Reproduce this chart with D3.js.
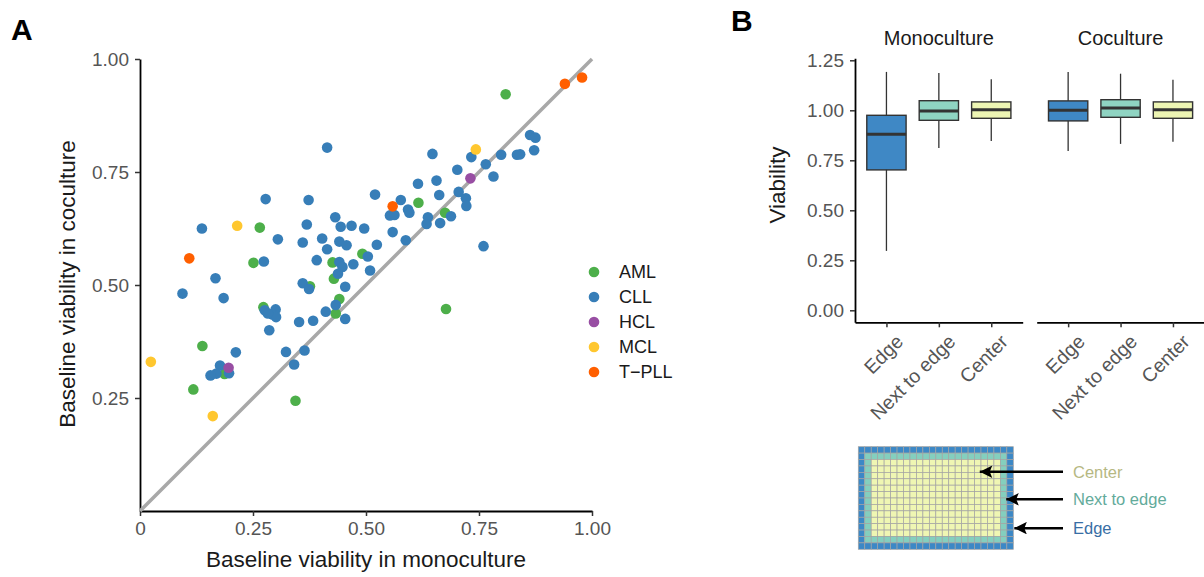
<!DOCTYPE html>
<html>
<head>
<meta charset="utf-8">
<script src="https://cdn.jsdelivr.net/npm/d3@7"></script>
<style>
  body { margin: 0; background: #fff; }
  svg { font-family: "Liberation Sans", Arial, Helvetica, sans-serif; }
</style>
</head>
<body>
<svg id="fig" width="1204" height="577"></svg>
<script>
// Panel A: baseline viability, monoculture vs coculture, one point per sample
const diseases = ["AML", "CLL", "HCL", "MCL", "T\u2212PLL"];
const diseaseColors = ["#4daf4a", "#377eb8", "#984ea3", "#ffc72f", "#ff5f00"];

// [monoculture, coculture]
const amlPoints = [
  [0.809, 0.922], [0.616, 0.682], [0.675, 0.660], [0.265, 0.627], [0.492, 0.569],
  [0.251, 0.549], [0.426, 0.550], [0.429, 0.514], [0.376, 0.497], [0.441, 0.469],
  [0.273, 0.451], [0.433, 0.437], [0.677, 0.447], [0.138, 0.365], [0.187, 0.303],
  [0.118, 0.269], [0.344, 0.244]
];
const cllPoints = [
  [0.414, 0.804], [0.863, 0.832], [0.875, 0.826], [0.872, 0.798], [0.647, 0.790],
  [0.733, 0.783], [0.799, 0.788], [0.834, 0.788], [0.841, 0.789], [0.702, 0.755],
  [0.765, 0.767], [0.782, 0.740], [0.615, 0.724], [0.656, 0.731], [0.662, 0.699],
  [0.705, 0.706], [0.721, 0.692], [0.722, 0.675], [0.520, 0.700], [0.577, 0.688],
  [0.593, 0.667], [0.596, 0.660], [0.688, 0.652], [0.553, 0.654], [0.563, 0.655],
  [0.637, 0.650], [0.634, 0.635], [0.664, 0.637], [0.278, 0.690], [0.373, 0.688],
  [0.137, 0.625], [0.432, 0.650], [0.369, 0.634], [0.444, 0.629], [0.468, 0.631],
  [0.496, 0.625], [0.559, 0.617], [0.305, 0.601], [0.360, 0.594], [0.403, 0.603],
  [0.441, 0.596], [0.457, 0.588], [0.524, 0.589], [0.588, 0.599], [0.760, 0.586],
  [0.414, 0.579], [0.504, 0.563], [0.274, 0.552], [0.391, 0.555], [0.441, 0.551],
  [0.448, 0.540], [0.472, 0.546], [0.509, 0.532], [0.438, 0.525], [0.167, 0.515],
  [0.360, 0.504], [0.374, 0.491], [0.454, 0.496], [0.094, 0.481], [0.185, 0.471],
  [0.433, 0.456], [0.276, 0.444], [0.300, 0.446], [0.293, 0.435], [0.301, 0.429],
  [0.283, 0.437], [0.286, 0.400], [0.411, 0.441], [0.352, 0.418], [0.383, 0.421],
  [0.454, 0.425], [0.212, 0.351], [0.323, 0.352], [0.364, 0.355], [0.341, 0.324],
  [0.177, 0.322], [0.197, 0.305], [0.169, 0.304], [0.156, 0.300]
];
const hclPoints = [[0.731, 0.736], [0.196, 0.317]];
const mclPoints = [[0.743, 0.800], [0.215, 0.631], [0.024, 0.330], [0.161, 0.210]];
const tpllPoints = [[0.940, 0.945], [0.978, 0.959], [0.559, 0.674], [0.109, 0.559]];
const scatterTicks = [0, 0.25, 0.5, 0.75, 1];

// Panel B: viability by well position, [lower whisker, q1, median, q3, upper whisker]
const cultures = ["Monoculture", "Coculture"];
const positions = ["Edge", "Next to edge", "Center"];
const positionColors = ["#3f88c5", "#8fd4c2", "#edf5b3"];
const monoStats = [
  [0.297, 0.702, 0.880, 0.975, 1.192],
  [0.812, 0.950, 0.997, 1.048, 1.187],
  [0.847, 0.960, 1.003, 1.042, 1.155]
];
const cocStats = [
  [0.797, 0.947, 1.000, 1.047, 1.192],
  [0.832, 0.965, 1.012, 1.053, 1.183],
  [0.843, 0.960, 1.003, 1.042, 1.153]
];
const boxTicks = [0, 0.25, 0.5, 0.75, 1, 1.25];

// 384-well plate layout and the arrows pointing into it [col, row]
const plateCols = 24, plateRows = 16;
const plateLabels = ["Center", "Next to edge", "Edge"];
const plateLabelColors = ["#b6b883", "#63ab9b", "#386ea5"];
const plateArrowTips = [[18.5, 3.9], [22.6, 8.2], [23.85, 12.7]];
const plateColors = ["#3c88c6", "#84cfbe", "#eff6b3"];

const svg = d3.select("#fig");

// ---------- Panel A ----------
const sx = d3.scaleLinear().domain([0, 1]).range([140, 592]);
const sy = d3.scaleLinear().domain([0, 1]).range([511, 59]);

const fmtTick = d => d === 0 ? "0" : d3.format(".2f")(d);

function styleAxis(g) {
  g.select(".domain").attr("stroke", "#000").attr("stroke-width", 1.8);
  g.selectAll(".tick line").attr("stroke", "#333").attr("stroke-width", 1.5);
  g.selectAll(".tick text").attr("fill", "#555").style("font-size", "19px");
}

svg.append("g")
  .attr("transform", "translate(0,511)")
  .call(d3.axisBottom(sx).tickValues(scatterTicks).tickFormat(fmtTick).tickSize(5).tickSizeOuter(0).tickPadding(6))
  .call(styleAxis);

svg.append("g")
  .attr("transform", "translate(140,0)")
  .call(d3.axisLeft(sy).tickValues(scatterTicks.slice(1)).tickFormat(fmtTick).tickSize(5).tickSizeOuter(0).tickPadding(6))
  .call(styleAxis);

svg.append("line")
  .attr("x1", sx(0)).attr("y1", sy(0))
  .attr("x2", sx(1)).attr("y2", sy(1))
  .attr("stroke", "#a8a8a8")
  .attr("stroke-width", 3.5);

const pointSets = [amlPoints, cllPoints, hclPoints, mclPoints, tpllPoints];
pointSets.forEach((pts, i) => {
  svg.append("g").selectAll("circle")
    .data(pts)
    .join("circle")
    .attr("cx", d => sx(d[0]))
    .attr("cy", d => sy(d[1]))
    .attr("r", 5.3)
    .attr("fill", diseaseColors[i]);
});

// legend
const legend = svg.append("g").attr("transform", "translate(594,272)");
diseases.forEach((name, i) => {
  legend.append("circle").attr("cx", 0).attr("cy", i * 25).attr("r", 5.3).attr("fill", diseaseColors[i]);
  legend.append("text")
    .attr("x", 25).attr("y", i * 25)
    .attr("dominant-baseline", "central")
    .style("font-size", "18px")
    .attr("fill", "#1a1a1a")
    .text(name);
});

svg.append("text")
  .attr("x", 366).attr("y", 567)
  .attr("text-anchor", "middle")
  .style("font-size", "22.5px")
  .attr("fill", "#1a1a1a")
  .text("Baseline viability in monoculture");

svg.append("text")
  .attr("transform", "translate(75,284) rotate(-90)")
  .attr("text-anchor", "middle")
  .style("font-size", "22.5px")
  .attr("fill", "#1a1a1a")
  .text("Baseline viability in coculture");

svg.append("text")
  .attr("x", 11).attr("y", 40)
  .style("font-size", "30px").style("font-weight", "bold")
  .text("A");

// ---------- Panel B ----------
svg.append("text")
  .attr("x", 731).attr("y", 31)
  .style("font-size", "30px").style("font-weight", "bold")
  .text("B");

const by = d3.scaleLinear().domain([-0.06, 1.26]).range([322.3, 58.3]);
const panelRanges = [[855, 1022.7], [1036.7, 1204.4]];
const allStats = [monoStats, cocStats];

svg.append("g")
  .attr("transform", "translate(855,0)")
  .call(d3.axisLeft(by).tickValues(boxTicks).tickFormat(d3.format(".2f")).tickSize(5).tickSizeOuter(0).tickPadding(6))
  .call(styleAxis);

svg.append("text")
  .attr("transform", "translate(785,185) rotate(-90)")
  .attr("text-anchor", "middle")
  .style("font-size", "22.5px")
  .attr("fill", "#1a1a1a")
  .text("Viability");

cultures.forEach((culture, p) => {
  const bx = d3.scalePoint().domain(positions).range(panelRanges[p]).padding(0.6);
  const bw = bx.step() * 0.75;
  const g = svg.append("g");

  g.append("g")
    .attr("transform", "translate(0,322.3)")
    .call(d3.axisBottom(bx).tickSize(5).tickSizeOuter(0).tickFormat(""))
    .call(styleAxis);

  positions.forEach(pos => {
    g.append("text")
      .attr("transform", `translate(${bx(pos) + 8},333) rotate(-45)`)
      .attr("text-anchor", "end")
      .attr("dy", "0.72em")
      .attr("fill", "#555")
      .style("font-size", "19.5px")
      .text(pos);
  });

  g.append("text")
    .attr("x", (panelRanges[p][0] + panelRanges[p][1]) / 2)
    .attr("y", 45)
    .attr("text-anchor", "middle")
    .style("font-size", "20px")
    .attr("fill", "#1a1a1a")
    .text(culture);

  const boxes = g.selectAll(".box")
    .data(allStats[p])
    .join("g")
    .attr("class", "box");

  boxes.append("line")
    .attr("x1", (d, i) => bx(positions[i]))
    .attr("x2", (d, i) => bx(positions[i]))
    .attr("y1", d => by(d[0]))
    .attr("y2", d => by(d[4]))
    .attr("stroke", "#333")
    .attr("stroke-width", 1.3);

  boxes.append("rect")
    .attr("x", (d, i) => bx(positions[i]) - bw / 2)
    .attr("width", bw)
    .attr("y", d => by(d[3]))
    .attr("height", d => by(d[1]) - by(d[3]))
    .attr("fill", (d, i) => positionColors[i])
    .attr("stroke", "#333")
    .attr("stroke-width", 1.4);

  boxes.append("line")
    .attr("x1", (d, i) => bx(positions[i]) - bw / 2)
    .attr("x2", (d, i) => bx(positions[i]) + bw / 2)
    .attr("y1", d => by(d[2]))
    .attr("y2", d => by(d[2]))
    .attr("stroke", "#333")
    .attr("stroke-width", 3);
});

// ---------- plate diagram ----------
const px = d3.scaleLinear().domain([0, plateCols]).range([858.3, 1013.3]);
const py = d3.scaleLinear().domain([0, plateRows]).range([446.7, 549.3]);

const wells = [];
d3.range(plateRows).forEach(r => d3.range(plateCols).forEach(c => {
  const ring = Math.min(r, c, plateRows - 1 - r, plateCols - 1 - c);
  wells.push({ r, c, ring: Math.min(ring, 2) });
}));

svg.append("g").selectAll("rect")
  .data(wells)
  .join("rect")
  .attr("x", d => px(d.c))
  .attr("y", d => py(d.r))
  .attr("width", px(1) - px(0))
  .attr("height", py(1) - py(0))
  .attr("fill", d => plateColors[d.ring])
  .attr("stroke", "#a3a3a3")
  .attr("stroke-width", 0.7);

svg.append("defs").append("marker")
  .attr("id", "arrowhead")
  .attr("viewBox", "0 0 10 10")
  .attr("refX", 0).attr("refY", 5)
  .attr("markerWidth", 6.4).attr("markerHeight", 5)
  .attr("markerUnits", "strokeWidth")
  .attr("orient", "auto")
  .append("path")
  .attr("d", "M0,5 L10,0 L8,5 L10,10 Z")
  .attr("fill", "#000");

plateLabels.forEach((label, i) => {
  const tip = plateArrowTips[i];
  svg.append("line")
    .attr("x1", px(tip[0]) + 2).attr("y1", py(tip[1]))
    .attr("x2", 1063).attr("y2", py(tip[1]))
    .attr("stroke", "#000")
    .attr("stroke-width", 2.5)
    .attr("marker-start", "url(#arrowhead)");
  svg.append("text")
    .attr("x", 1073).attr("y", py(tip[1]))
    .attr("dominant-baseline", "central")
    .attr("fill", plateLabelColors[i])
    .style("font-size", "16.5px")
    .text(label);
});
</script>
</body>
</html>
